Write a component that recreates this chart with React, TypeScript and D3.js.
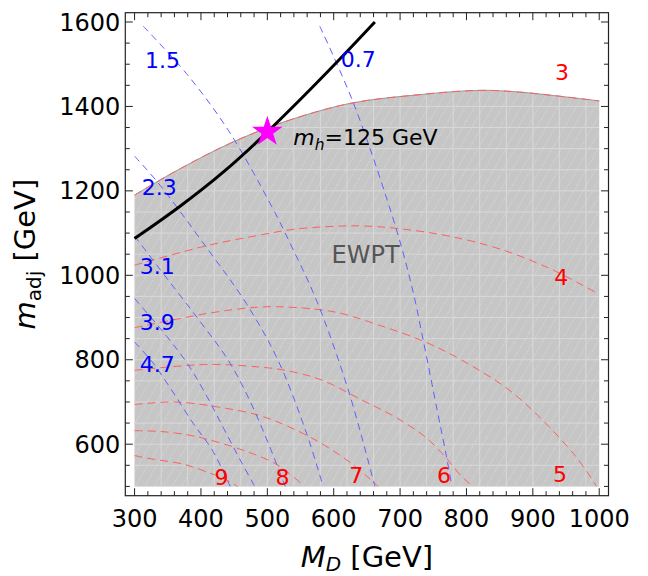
import React from 'react';
import * as d3 from 'd3';

type Pt = [number, number];

// M_D [GeV] vs m_adj [GeV]
// upper edge of the EWPT-excluded region (contour "3")
const ewptEdge: Pt[] = [[300, 1190], [360, 1245], [443, 1312], [519, 1360], [624, 1407], [730, 1428], [820, 1438], [880, 1434], [1000, 1413]];

// red dashed contours
const contour4: Pt[] = [[300, 1024], [411, 1071], [481, 1093], [540, 1109], [600, 1116], [640, 1117], [690, 1112], [770, 1094], [851, 1062], [931, 1012], [1000, 955]];
const contour5: Pt[] = [[300, 876], [411, 910], [481, 924], [527, 925], [602, 913], [672, 880], [738, 842], [793, 799], [871, 720], [961, 578], [996, 500]];
const contour6: Pt[] = [[300, 775], [411, 789], [486, 783], [527, 775], [582, 752], [643, 704], [692, 665], [738, 617], [768, 570], [793, 523], [810, 500]];
const contour7: Pt[] = [[300, 694], [361, 700], [426, 688], [486, 669], [527, 645], [577, 606], [627, 554], [667, 500]];
const contour8: Pt[] = [[300, 632], [340, 630], [380, 622], [411, 611], [461, 587], [512, 554], [545, 515], [555, 500]];
const contour9: Pt[] = [[300, 573], [330, 564], [373, 553], [411, 533], [435, 518], [455, 500]];

// blue dashed contours
const blue07: Pt[] = [[579, 1590], [630, 1407], [694, 1111], [720, 958], [735, 845], [756, 680], [770, 570], [778, 500]];
const blue15: Pt[] = [[313, 1590], [378, 1478], [441, 1344], [507, 1162], [537, 1067], [574, 941], [622, 728], [662, 500]];
const blue23: Pt[] = [[300, 1282], [336, 1218], [411, 1060], [468, 934], [516, 799], [559, 626], [584, 500]];
const blue31: Pt[] = [[300, 1093], [350, 990], [398, 892], [441, 799], [473, 705], [502, 600], [527, 500]];
const blue39: Pt[] = [[300, 945], [345, 862], [380, 790], [410, 710], [435, 635], [460, 560], [481, 500]];
const blue47: Pt[] = [[300, 842], [328, 792], [353, 735], [388, 650], [417, 586], [444, 500]];

// m_h = 125 GeV line and benchmark point
const higgsLine: Pt[] = [[300, 1087], [365, 1158], [436, 1245], [500, 1338], [594, 1486], [662, 1600]];
const benchmark: Pt = [500, 1340];

// contour labels: text, M_D, m_adj
const redLabels: [string, number, number][] = [['3', 944, 1462], ['4', 943, 977], ['5', 941, 511], ['6', 766, 508], ['7', 634, 508], ['8', 523, 503], ['9', 431, 503]];
const blueLabels: [string, number, number][] = [['0.7', 637, 1494], ['1.5', 342, 1491], ['2.3', 337, 1190], ['3.1', 334, 1004], ['3.9', 334, 870], ['4.7', 334, 771]];

const xMajor = d3.range(300, 1001, 100);
const xMinor = d3.range(300, 1001, 20).filter(v => v % 100 !== 0);
const yMajor = d3.range(600, 1601, 200);
const yMinor = d3.range(500, 1601, 50).filter(v => (v - 600) % 200 !== 0);

const FONT = '"DejaVu Sans", sans-serif';

export default function App() {
  const x = d3.scaleLinear().domain([286, 1014]).range([125.3, 608.5]);
  const y = d3.scaleLinear().domain([478, 1622]).range([495.7, 12.7]);
  const [left, right] = x.range();
  const [bottom, top] = y.range();

  const curve = d3.curveCatmullRom.alpha(0.5);
  const line = d3.line<Pt>().x(d => x(d[0])).y(d => y(d[1])).curve(curve);
  const smooth = d3.line<Pt>().x(d => x(d[0])).y(d => y(d[1])).curve(d3.curveBasis);
  const area = d3.area<Pt>().x(d => x(d[0])).y0(y(500)).y1(d => y(d[1])).curve(curve);
  const region = area(ewptEdge) || '';

  const reds = [contour4, contour5, contour6, contour7, contour8, contour9];
  const blues = [blue07, blue15, blue23, blue31, blue39, blue47];
  const star = d3.symbol().type(d3.symbolStar).size(290)() || '';

  const majorLen = 7.5, minorLen = 4.5;

  return (
    <div style={{ position: 'absolute', left: 0, top: 0 }}>
      <svg width={648} height={576} fontFamily={FONT}>
        <defs>
          <clipPath id="ewpt"><path d={region} /></clipPath>
          <pattern id="hatch" width="8" height="8" patternUnits="userSpaceOnUse" patternTransform="rotate(30)">
            <line x1="0.5" y1="0" x2="0.5" y2="8" stroke="#d6d6d6" strokeWidth="0.9" strokeDasharray="1.5 1.5" />
          </pattern>
        </defs>

        {/* EWPT excluded region */}
        <path d={region} fill="#c6c6c6" />
        <path d={region} fill="url(#hatch)" />
        <g clipPath="url(#ewpt)" stroke="#d9d9d9" strokeWidth={1}>
          {d3.range(500, 1601, 50).map(v => (
            <line key={'h' + v} x1={x(300)} x2={x(1000)} y1={y(v)} y2={y(v)} />
          ))}
          {d3.range(300, 1001, 40).map(v => (
            <line key={'v' + v} x1={x(v)} x2={x(v)} y1={y(500)} y2={y(1600)} />
          ))}
        </g>
        <path d={line(ewptEdge) || ''} fill="none" stroke="#9a9a9a" strokeWidth={1} />

        {/* contours */}
        {reds.map((c, i) => (
          <path key={'r' + i} d={line(c) || ''} fill="none" stroke="#ff5f5f" strokeWidth={1} strokeDasharray="8 5" />
        ))}
        <path d={line(ewptEdge) || ''} fill="none" stroke="#ff5f5f" strokeWidth={1} strokeDasharray="8 5" />
        {blues.map((c, i) => (
          <path key={'b' + i} d={line(c) || ''} fill="none" stroke="#6060ff" strokeWidth={1} strokeDasharray="7 5" />
        ))}

        {/* m_h = 125 GeV */}
        <path d={smooth(higgsLine) || ''} fill="none" stroke="#000" strokeWidth={3} />
        <path d={star} transform={`translate(${x(benchmark[0])},${y(benchmark[1])})`} fill="#ff00ff" />

        {redLabels.map(([t, a, b]) => (
          <text key={'rl' + t} x={x(a)} y={y(b)} fill="#ff0000" fontSize={22} textAnchor="middle">{t}</text>
        ))}
        {blueLabels.map(([t, a, b]) => (
          <text key={'bl' + t} x={x(a)} y={y(b)} fill="#0000ff" fontSize={22} textAnchor="middle">{t}</text>
        ))}
        <text x={x(648)} y={y(1028)} fill="#555" fontSize={24} textAnchor="middle">EWPT</text>
        <text x={x(539)} y={y(1308)} fontSize={22} fill="#000">
          <tspan fontStyle="italic">m</tspan>
          <tspan fontStyle="italic" fontSize={15.5} dy={5}>h</tspan>
          <tspan dy={-5}>=125 GeV</tspan>
        </text>

        {/* frame and ticks */}
        <rect x={left} y={top} width={right - left} height={bottom - top} fill="none" stroke="#222" strokeWidth={1.2} />
        <g stroke="#222" strokeWidth={1}>
          {xMajor.map(v => (
            <g key={'xM' + v}>
              <line x1={x(v)} x2={x(v)} y1={bottom} y2={bottom - majorLen} />
              <line x1={x(v)} x2={x(v)} y1={top} y2={top + majorLen} />
            </g>
          ))}
          {xMinor.map(v => (
            <g key={'xm' + v}>
              <line x1={x(v)} x2={x(v)} y1={bottom} y2={bottom - minorLen} />
              <line x1={x(v)} x2={x(v)} y1={top} y2={top + minorLen} />
            </g>
          ))}
          {yMajor.map(v => (
            <g key={'yM' + v}>
              <line x1={left} x2={left + majorLen} y1={y(v)} y2={y(v)} />
              <line x1={right} x2={right - majorLen} y1={y(v)} y2={y(v)} />
            </g>
          ))}
          {yMinor.map(v => (
            <g key={'ym' + v}>
              <line x1={left} x2={left + minorLen} y1={y(v)} y2={y(v)} />
              <line x1={right} x2={right - minorLen} y1={y(v)} y2={y(v)} />
            </g>
          ))}
        </g>
        {xMajor.map(v => (
          <text key={'xt' + v} x={x(v)} y={bottom + 31} fontSize={24} textAnchor="middle">{v}</text>
        ))}
        {yMajor.map(v => (
          <text key={'yt' + v} x={left - 5} y={y(v) + 8.6} fontSize={24} textAnchor="end">{v}</text>
        ))}

        {/* axis titles */}
        <text x={(left + right) / 2} y={566.5} fontSize={29} textAnchor="middle">
          <tspan fontStyle="italic">M</tspan>
          <tspan fontStyle="italic" fontSize={20} dy={4}>D</tspan>
          <tspan dy={-4}> [GeV]</tspan>
        </text>
        <text transform={`translate(35,${(top + bottom) / 2}) rotate(-90)`} fontSize={29} textAnchor="middle">
          <tspan fontStyle="italic">m</tspan>
          <tspan fontSize={20} dy={6}>adj</tspan>
          <tspan dy={-6}> [GeV]</tspan>
        </text>
      </svg>
    </div>
  );
}
